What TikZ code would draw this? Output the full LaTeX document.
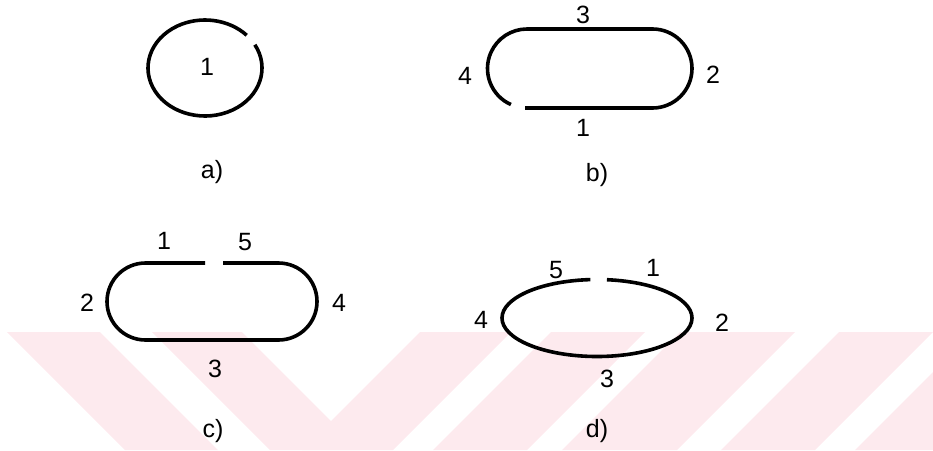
\documentclass[tikz,border=0pt]{standalone}
\usepackage{fontspec}
\setmainfont{Liberation Sans}
\usepackage{tikz}
\usepackage{xcolor}
\definecolor{markpink}{RGB}{253, 234, 238}
\newcommand{\figfont}{\fontsize{25}{29}\selectfont}

\begin{document}
\begin{tikzpicture}[x=1pt, y=-1pt, every node/.style={font=\figfont, inner sep=0pt}, loopline/.style={line width=3.6pt}]
\useasboundingbox (0,0) rectangle (933,450);

% faint background mark
\begin{scope}
\clip (0,332) rectangle (933,450);
\fill[markpink] (7,332) -- (100,332) -- (218,450) -- (125,450) -- cycle;
\fill[markpink] (152,332) -- (242,332) -- (360,450) -- (270,450) -- cycle;
\fill[markpink] (420,332) -- (511,332) -- (393,450) -- (302,450) -- cycle;
\fill[markpink] (551,332) -- (645,332) -- (527,450) -- (433,450) -- cycle;
\fill[markpink] (680,332) -- (795,332) -- (677,450) -- (562,450) -- cycle;
\fill[markpink] (839,332) -- (933,332) -- (815,450) -- (721,450) -- cycle;
\fill[markpink] (973,332) -- (1088,332) -- (970,450) -- (855,450) -- cycle;
\end{scope}

% a) one open ring
\coordinate (ca) at (205,68);
\draw[loopline] (ca) ++(-29:57 and 48) arc[start angle=-29, end angle=317, x radius=57, y radius=48];
\node (a1) at (207,67) {1};
\node (capa) at (212,172) {a)};

% b) oval, gap bottom left
\coordinate (cbl) at (527,68.5);
\coordinate (cbr) at (652.5,68.5);
\draw[loopline] (cbl) ++(114:39.5) arc[start angle=114, end angle=270, radius=39.5] -- (652.5,29) arc[start angle=-90, end angle=90, radius=39.5] -- (525,108);
\node (b3) at (583,15) {3};
\node (b2) at (713,75) {2};
\node (b4) at (465,76) {4};
\node (b1) at (583,128) {1};
\node (capb) at (597,175) {b)};

% c) oval, gap on top
\coordinate (ccl) at (145.5,301.5);
\coordinate (ccr) at (278.5,301.5);
\draw[loopline] (223,263) -- (278.5,263) arc[start angle=-90, end angle=90, radius=38.5] -- (145.5,340) arc[start angle=90, end angle=270, radius=38.5] -- (205,263);
\node (c1) at (164,241) {1};
\node (c5) at (245,242) {5};
\node (c2) at (87,303) {2};
\node (c4) at (339,303) {4};
\node (c3) at (215,369) {3};
\node (capc) at (213,431) {c)};

% d) ellipse, gap on top
\coordinate (cd) at (597,318);
\draw[loopline] (cd) ++(276:95 and 38.5) arc[start angle=276, end angle=626, x radius=95, y radius=38.5];
\node (d5) at (556,270) {5};
\node (d1) at (653,268) {1};
\node (d4) at (481,320) {4};
\node (d2) at (722,323) {2};
\node (d3) at (607,379) {3};
\node (capd) at (597,431) {d)};
\end{tikzpicture}
\end{document}
